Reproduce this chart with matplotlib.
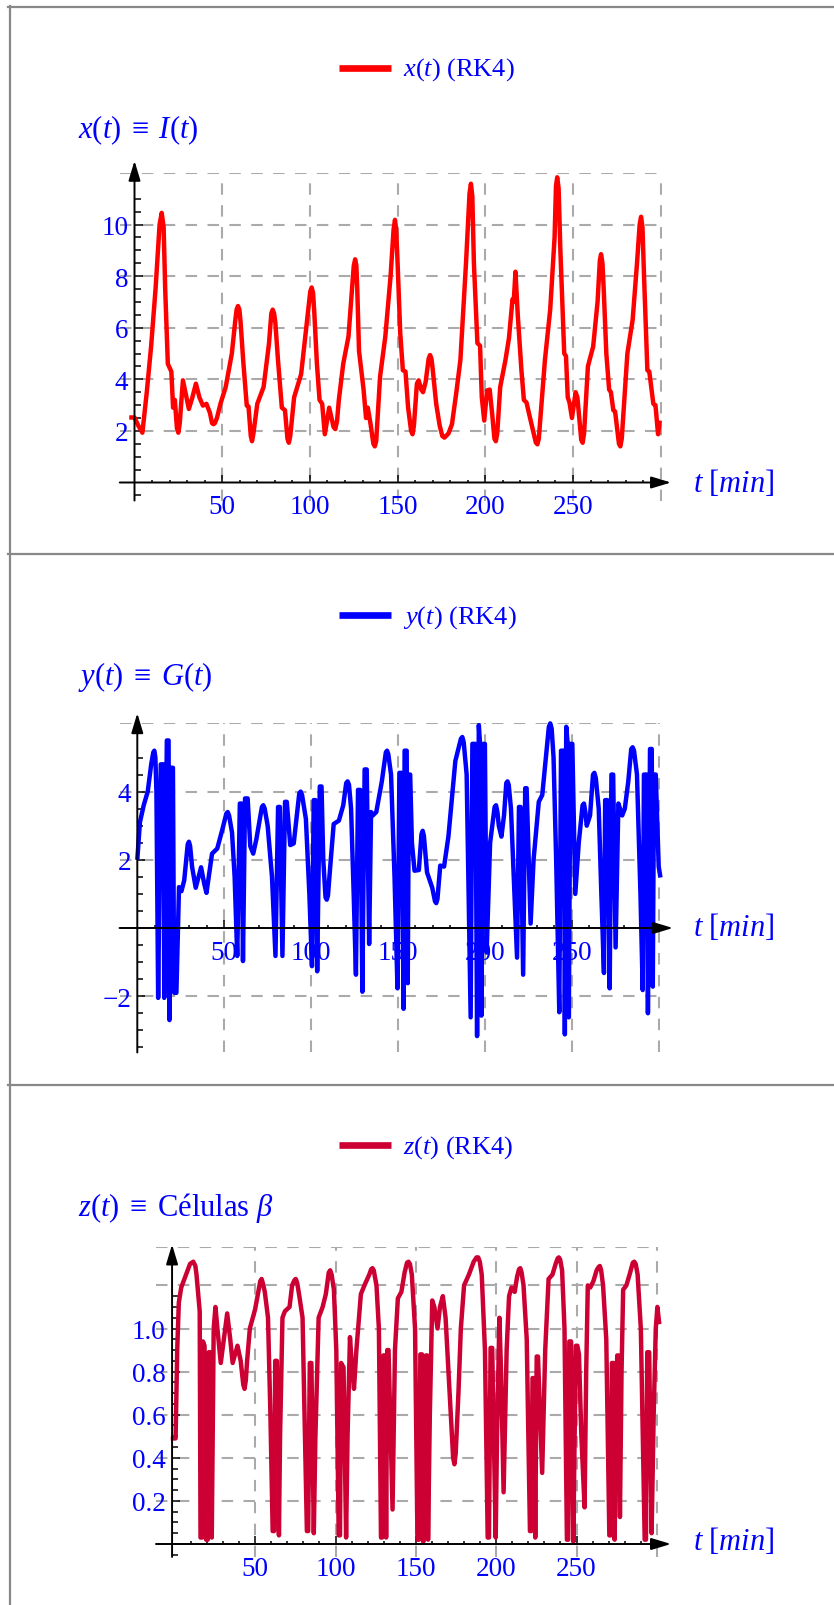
import matplotlib
matplotlib.use("Agg")
import matplotlib.pyplot as plt
from matplotlib.lines import Line2D
from matplotlib.patches import ArrowStyle

plt.rcParams["font.family"] = ["Liberation Serif", "DejaVu Serif"]
plt.rcParams["mathtext.fontset"] = "custom"
plt.rcParams["mathtext.rm"] = "Liberation Serif"
plt.rcParams["mathtext.it"] = "Liberation Serif:italic"
plt.rcParams["mathtext.bf"] = "Liberation Serif:bold"

# x(t) = I(t) as (t, value)
x_points = [
    (-3, 2.52), (0, 2.52), (2.2, 2.2), (4.5, 1.93), (7, 3.5), (9.5, 5.3), (12, 7.5),
    (14.3, 10.0), (15.5, 10.45), (16.6, 9.9), (17.5, 7.5), (19, 4.6), (20, 4.45), (21, 4.3),
    (22, 2.9), (23, 3.2), (24.2, 2.1), (25, 1.93), (25.8, 2.3), (27.6, 3.96), (29, 3.5),
    (31, 2.85), (33, 3.3), (35, 3.83), (37, 3.3), (39, 2.98), (41, 3.05), (43, 2.7),
    (44.2, 2.3), (45, 2.26), (45.8, 2.3), (47, 2.5), (49, 3.05), (52, 3.7), (55.5, 5.0),
    (57.5, 6.3), (58.2, 6.7), (59, 6.84), (59.8, 6.7), (60.5, 6.2), (62, 4.7), (64, 2.98),
    (65, 2.95), (66.3, 1.8), (67, 1.6), (67.8, 1.9), (70, 3.05), (73.6, 3.7), (76.7, 5.4),
    (78, 6.55), (78.8, 6.7), (79.6, 6.55), (80.3, 6.2), (81.8, 4.75), (84, 2.9),
    (85.8, 2.8), (87.2, 1.7), (88, 1.54), (88.8, 1.8), (91, 3.3), (95, 4.2), (98, 6.05),
    (100.2, 7.4), (101, 7.56), (101.8, 7.35), (102.5, 6.6), (104, 4.6), (105.5, 3.2),
    (107, 3.05), (108.5, 1.87), (111, 2.9), (113.5, 2.15), (114.5, 2.07), (115.5, 2.4),
    (116.5, 3.2), (119, 4.6), (122, 5.66), (125, 8.4), (125.8, 8.65), (126.5, 8.4),
    (127, 7.5), (128, 5.1), (130.6, 3.6), (132, 2.5), (133, 2.9), (134.5, 2.3),
    (136.2, 1.5), (137, 1.4), (137.8, 1.6), (140, 4.1), (143, 5.66), (146, 8.0),
    (147.7, 9.8), (148.5, 10.18), (149.2, 9.8), (150, 8.5), (151.5, 5.8), (153, 4.35),
    (154.5, 4.3), (156, 2.9), (157.7, 2.0), (158.5, 1.87), (159.3, 2.2), (161, 3.83),
    (162, 3.96), (163.5, 3.6), (164.5, 3.5), (166, 3.9), (167.7, 4.8), (168.5, 4.94),
    (169.3, 4.8), (170, 4.4), (172, 3.05), (174, 2.2), (175.5, 1.8), (176.7, 1.74),
    (179, 1.9), (181, 2.26), (183.5, 3.5), (185.8, 4.75), (189, 8.5), (191, 11.2),
    (191.8, 11.58), (192.6, 11.1), (193.5, 8.5), (195.5, 5.4), (197, 5.3), (198, 3.3),
    (199.4, 2.4), (201, 3.57), (202.5, 3.6), (204, 2.6), (205.2, 1.7), (206, 1.6),
    (206.8, 1.9), (208.5, 3.7), (211.5, 4.75), (213.5, 5.6), (215.5, 7.1), (216.2, 7.0),
    (217.2, 8.17), (218.5, 6.5), (220.6, 4.35), (222, 3.2), (223.5, 3.1), (225, 2.65),
    (228.8, 1.55), (229.7, 1.48), (230.5, 1.7), (232, 3.0), (234, 4.75), (237, 6.7),
    (239.5, 9.5), (240.3, 11.5), (241, 11.83), (241.8, 11.4), (242.8, 9.0), (245, 5.0),
    (246, 4.9), (247, 3.3), (248, 3.1), (249.4, 2.5), (251.5, 3.5), (252.5, 3.3),
    (254.7, 1.65), (255.5, 1.54), (256.3, 1.9), (258.5, 4.5), (261.5, 5.27), (264, 7.0),
    (265.3, 8.6), (266, 8.85), (266.8, 8.5), (267.5, 7.5), (269, 5.0), (270.6, 3.6),
    (271.6, 3.5), (273, 2.8), (274, 2.75), (276.2, 1.5), (277, 1.4), (277.8, 1.7),
    (281, 5.0), (284, 6.3), (286.5, 8.5), (288, 10.0), (288.8, 10.3), (289.6, 9.9),
    (290.5, 8.0), (292.4, 4.35), (293.5, 4.3), (295.8, 3.05), (297, 3.0), (298.5, 1.87),
    (299.5, 2.4),
]

# y(t) = G(t)
y_points = [
    (0, 2.0), (1.5, 3.1), (3.7, 3.6), (6, 4.0), (8, 4.8), (9.2, 5.15), (9.8, 5.2),
    (10.4, 5.0), (11, 4.0),
    (12, -2.05), (13.5, 4.8), (15, 4.8), (15.5, -2.05), (17, 5.5), (18, 5.5), (18.5, -2.7),
    (19.2, 4.7), (20.5, 4.7), (21.2, -1.9), (22.5, -1.9), (24, 1.2), (25.4, 1.08),
    (27, 1.4), (29, 2.45), (29.7, 2.53), (30.4, 2.4), (31.5, 1.8), (33.6, 1.18),
    (36.7, 1.78), (38.5, 1.3), (39.8, 1.03), (43, 2.18), (46, 2.33), (49, 2.9),
    (51.2, 3.35), (52, 3.4), (52.8, 3.3), (54.5, 2.8), (56, 1.5),
    (57.5, -0.82), (59, 3.65), (60, 3.65), (60.8, -0.97), (62, 3.8), (63.5, 3.8),
    (65, 2.4), (66.7, 2.18), (68.5, 2.6), (71.7, 3.55), (72.5, 3.6), (73.3, 3.5),
    (75, 3.0), (77.5, 1.5),
    (79.5, -0.82), (81, 3.55), (82, 3.55), (83.5, -0.82), (85, 3.7), (86, 3.7),
    (88, 2.43), (90, 2.48), (93.2, 3.95), (94, 4.0), (94.8, 3.9), (97, 3.2), (99, 1.0),
    (100.5, -1.12),
    (101.5, 3.75), (102.5, 3.75), (103.5, -1.27), (105, 4.15), (106, 4.15), (107, 2.0),
    (108.3, 0.9), (109, 0.83), (109.7, 0.95), (111, 1.8), (113, 3.05), (116, 3.15),
    (118.5, 3.6), (120.2, 4.25), (121, 4.3), (121.8, 4.2),
    (123, 3.5), (124.5, 1.0), (125.8, -1.37), (127, 4.05), (128.3, 4.05), (129.5, -1.87),
    (130.8, 4.65), (132, 4.65), (133.4, -0.47), (134.5, 3.4), (135.5, 3.3), (137.5, 3.4),
    (140.7, 4.3), (143, 5.15), (143.7, 5.2), (144.4, 5.1), (146, 4.5), (148, 1.5),
    (149.7, -1.77), (150.8, 4.55),
    (152, 4.55), (153.2, -2.37), (153.8, 5.2), (155, 5.2), (155.6, -1.62), (156.3, 4.5),
    (157, 4.5), (158, 2.5), (159.5, 1.68), (162, 1.7), (163.5, 2.75), (164.2, 2.85),
    (164.9, 2.7), (166.7, 1.63),
    (169.7, 1.18), (171.3, 0.78), (172, 0.73), (172.7, 0.85), (174.3, 1.83), (176.5, 1.8),
    (179, 2.68), (183, 4.9), (186.2, 5.55), (187, 5.6), (187.8, 5.45),
    (189.5, 4.5), (191.8, -2.62), (192.8, 5.4), (194.5, 5.4), (195.5, -3.17),
    (196.5, 5.95), (197.2, 5.4), (198, -2.57), (199, 5.4), (200, 5.4), (201, -0.72),
    (203, 2.5), (205.6, 3.55), (206.4, 3.6), (207.2, 3.4), (208, 3.0), (209.5, 2.68),
    (211, 3.3), (212.3, 4.25), (213, 4.3), (213.7, 4.2),
    (215, 3.5), (217, 1.0), (218.5, -0.87), (219.6, 3.55), (220.5, 3.55), (222, -1.37),
    (223.2, 4.1), (224, 4.1), (226.3, 0.13), (228, 2.0), (231, 3.7), (233, 3.9),
    (235.5, 5.2), (236.8, 5.9), (237.6, 6.0), (238.4, 5.85), (239.5, 5.0), (241, 2.0),
    (242.8, -2.47), (243.8, 5.2),
    (245.5, 5.2), (246, -3.12), (246.8, 5.9), (247.8, 5.3), (248.3, -2.62), (249.2, 5.4),
    (250.3, 5.4), (252, 1.0), (254, 2.5), (256.2, 3.6), (257, 3.65), (257.8, 3.4),
    (258.6, 3.0), (260.5, 3.3),
    (262.2, 4.5), (263, 4.55), (263.8, 4.4), (265.5, 3.5), (267, 1.0), (268.5, -1.32),
    (269.2, 3.75), (270.5, 3.75),
    (271.8, -1.77), (272.8, 4.5), (273.8, 4.5), (275.2, -0.57), (276.8, 3.65), (279, 3.3),
    (280.5, 3.5), (282.5, 4.3), (284.2, 5.25), (285, 5.3), (285.8, 5.2), (287.5, 4.5),
    (289.5, 1.0), (290.8, -1.82),
    (291.5, 4.5), (293, 4.5), (293.8, -2.5), (295, 5.25), (296, 5.25), (296.6, -1.72),
    (297.3, 4.5), (298.3, 4.5), (300, 1.8), (301, 1.48),
]

# z(t) = beta cells
z_points = [
    (-2.5, 0.49), (0.5, 0.49), (1.5, 0.9), (2.5, 1.12), (4, 1.19), (7, 1.25), (9.5, 1.3),
    (11.5, 1.31), (12.8, 1.29), (13.5, 1.25), (15.5, 1.08), (16, 0.03), (17, 0.03),
    (17.5, 0.94), (18.5, 0.92),
    (19.5, 0.02), (20.5, 0.02), (21.2, 0.89), (22, 0.89), (23, 0.03), (24.2, 1.0),
    (25.3, 1.1), (26.5, 1.0), (28.6, 0.84), (30.5, 0.95), (32.6, 1.07), (34.5, 0.95),
    (36, 0.84), (37.5, 0.88), (39, 0.92), (41, 0.85), (42.6, 0.74), (43.4, 0.72),
    (44.2, 0.76), (45, 0.85),
    (46.7, 1.0), (50, 1.09), (52, 1.17), (53.2, 1.22), (54, 1.23), (54.8, 1.21),
    (56, 1.17), (58, 1.05), (59.5, 0.6),
    (60.9, 0.06), (61.8, 0.06), (62.5, 0.85), (63.5, 0.85), (64.8, 0.04), (65.5, 0.5),
    (67, 1.05), (68.5, 1.08), (71.4, 1.1), (73, 1.2), (74.5, 1.225), (75.3, 1.23),
    (76.2, 1.21), (77.5, 1.15),
    (79.5, 1.05), (81, 0.5), (82.2, 0.06), (83, 0.06), (84, 0.84), (85, 0.84),
    (86.5, 0.05), (87.5, 0.5), (89.5, 1.05), (92, 1.1), (94, 1.16), (95.8, 1.26),
    (96.7, 1.27), (97.6, 1.25),
    (99, 1.18), (100.5, 0.9), (102, 0.04), (102.8, 0.04), (103.5, 0.84), (105, 0.82),
    (106.6, 0.03), (107.5, 0.5), (109, 0.96), (110, 0.85), (111.5, 0.72), (113, 0.9),
    (115.8, 1.16), (118, 1.2), (121, 1.25), (122.2, 1.275), (123, 1.28), (123.8, 1.27),
    (125.5, 1.2), (127, 1.0),
    (128.3, 0.03), (129, 0.03), (129.8, 0.875), (130.8, 0.875), (131.5, 0.03),
    (132.2, 0.9), (133, 0.9), (135.5, 0.16), (137, 0.9), (138.8, 1.14), (141, 1.17),
    (143, 1.26), (144.5, 1.305), (145.4, 1.31), (146.3, 1.3), (147.5, 1.25), (149.5, 1.0),
    (151, 0.02), (152, 0.02),
    (152.8, 0.88), (153.8, 0.88), (154.6, 0.01), (155.5, 0.5), (156.3, 0.875),
    (157, 0.875), (157.6, 0.02), (158.7, 0.6), (160.2, 1.13), (161.5, 1.1), (163.5, 1.0),
    (165, 1.1), (166.8, 1.15), (168.5, 1.05), (171, 0.7), (173.2, 0.4), (174, 0.37),
    (174.8, 0.42), (176.5, 0.7),
    (178, 1.0), (180, 1.2), (183, 1.25), (186, 1.31), (187.8, 1.33), (188.8, 1.33),
    (189.8, 1.31), (191, 1.25),
    (193, 0.9), (194.7, 0.03), (195.5, 0.03), (196.5, 0.91), (197.5, 0.91), (199.7, 0.03),
    (200.5, 0.5), (202, 1.05), (203, 0.8), (204.6, 0.24), (206.5, 0.9), (208, 1.15),
    (209.5, 1.19), (211.5, 1.17), (213, 1.24), (214.2, 1.275), (215, 1.28), (215.8, 1.26),
    (217, 1.2), (219, 0.95),
    (221, 0.06), (221.8, 0.06), (222.6, 0.77), (223.5, 0.77), (224.3, 0.03), (225.2, 0.87),
    (226, 0.87), (228.6, 0.33), (230.5, 0.9), (232.6, 1.23), (235, 1.25), (237, 1.3),
    (238.2, 1.325), (239, 1.33), (239.8, 1.32), (241, 1.27), (242.5, 1.0), (244, 0.02),
    (244.8, 0.02), (245.5, 0.94),
    (246.6, 0.94), (248, 0.01), (248.8, 0.5), (249.6, 0.92), (250.5, 0.92), (251.5, 0.88),
    (253, 0.5), (255, 0.17), (256, 0.8), (257, 1.2), (258.5, 1.19), (260.5, 1.22),
    (262.5, 1.27), (263.7, 1.285), (264.5, 1.29), (265.3, 1.27), (266.5, 1.2),
    (268.5, 0.95), (270.4, 0.04), (271.2, 0.04),
    (272, 0.84), (273, 0.84), (273.7, 0.02), (274.5, 0.5), (275.3, 0.875), (276, 0.875),
    (277, 0.125), (278, 0.8), (279, 1.18), (281, 1.2), (283, 1.25), (285, 1.305),
    (285.9, 1.31), (286.8, 1.3), (288, 1.25),
    (290, 1.0), (292.4, 0.02), (293.2, 0.02), (294, 0.89), (295.2, 0.89), (296.7, 0.05),
    (298, 0.6), (299.3, 1.0), (300.3, 1.1), (301.5, 1.02),
]

x_ticks = [50, 100, 150, 200, 250]
x_grid = [50, 100, 150, 200, 250, 300]

W, H = 834, 1606
BLUE = "#0000ff"
GRID = "#aaaaaa"
BORDER = "#888888"


def fx(px):
    return px / W


def fy(py):
    return 1 - py / H


fig = plt.figure(figsize=(W / 100, H / 100), dpi=100)

# panel frames
for y0 in [8, 555, 1086]:
    fig.add_artist(Line2D([fx(8), fx(W)], [fy(y0), fy(y0)], color=BORDER, lw=1.6))
fig.add_artist(Line2D([fx(9.5), fx(9.5)], [fy(7), fy(H)], color=BORDER, lw=1.6))

panels = [
    dict(pts=x_points, color="#ff0000", t0=134.5, ppt=1.754, v0=483.5, ppv=25.8,
         xlim=(-8.4, 301), ylim=(-0.7, 12), yaxis_at=0, xtip=305.9, ytip=12.47,
         yticks=[2, 4, 6, 8, 10], ylabels=["2", "4", "6", "8", "10"],
         yminor=[v * 0.5 for v in range(-1, 23) if v % 4 != 0],
         ygrid=[2, 4, 6, 8, 10, 12],
         legend=r"$x(t)$ (RK4)", leg_y=68.5,
         label=r"$x(t)\;\equiv\;I(t)$", label_y=130, tlab_y=483),
    dict(pts=y_points, color="#0000ff", t0=137.3, ppt=1.738, v0=929, ppv=34.1,
         xlim=(-10.2, 301), ylim=(-3.65, 6), yaxis_at=0, xtip=308.2, ytip=6.3,
         yticks=[-2, 2, 4], ylabels=["\u22122", "2", "4"],
         yminor=[v * 0.5 for v in range(-7, 11) if v % 4 != 0],
         ygrid=[-2, 2, 4, 6],
         legend=r"$y(t)$ (RK4)", leg_y=616,
         label=r"$y(t)\;\equiv\;G(t)$", label_y=677, tlab_y=928),
    dict(pts=z_points, color="#cc0033", t0=174.8, ppt=1.607, v0=1545, ppv=215.5,
         xlim=(-11.7, 301), ylim=(-0.06, 1.38), yaxis_at=-1.7, xtip=308.8, ytip=1.39,
         yticks=[0.2, 0.4, 0.6, 0.8, 1.0], ylabels=["0.2", "0.4", "0.6", "0.8", "1.0"],
         yminor=[v * 0.05 for v in range(-1, 24) if v % 4 != 0],
         ygrid=[0.2, 0.4, 0.6, 0.8, 1.0, 1.2, 1.38],
         legend=r"$z(t)$ (RK4)", leg_y=1146,
         label=r"$z(t)\;\equiv\;$Células $\beta$", label_y=1208, tlab_y=1542),
]

arrow = ArrowStyle("-|>", head_length=12, head_width=3.6)

for p in panels:
    x0, x1 = p["xlim"]
    y0, y1 = p["ylim"]
    left = p["t0"] + x0 * p["ppt"]
    bottom = p["v0"] - y0 * p["ppv"]
    ax = fig.add_axes([fx(left), fy(bottom), (x1 - x0) * p["ppt"] / W, (y1 - y0) * p["ppv"] / H])
    ax.set_xlim(x0, x1)
    ax.set_ylim(y0, y1)
    ax.patch.set_visible(False)

    for g in x_grid:
        ax.axvline(g, color=GRID, lw=1.5, ls=(0, (5.5, 5)), zorder=1)
    for g in p["ygrid"]:
        ax.axhline(g, color=GRID, lw=1.5, ls=(0, (5.5, 5)), zorder=1)

    ts = [a for a, b in p["pts"]]
    vs = [b for a, b in p["pts"]]
    ax.plot(ts, vs, color=p["color"], lw=3.2, solid_joinstyle="round",
            solid_capstyle="butt", clip_on=False, zorder=2)

    ax.spines["bottom"].set_position(("data", 0))
    ax.spines["left"].set_position(("data", p["yaxis_at"]))
    for s in ax.spines.values():
        s.set_visible(False)

    ax.set_xticks(x_ticks)
    ax.set_xticks([v for v in range(10, 300, 10) if v % 50 != 0], minor=True)
    ax.set_yticks(p["yticks"], p["ylabels"])
    ax.set_yticks(p["yminor"], minor=True)
    ax.tick_params(which="both", direction="in", color="k", width=1.1,
                   labelcolor=BLUE, labelsize=19.5, top=False, right=False)
    ax.tick_params(axis="x", which="major", length=5.5, pad=8.5)
    ax.tick_params(axis="x", which="minor", length=2)
    ax.tick_params(axis="y", which="major", length=6, pad=4.5)
    ax.tick_params(axis="y", which="minor", length=4)

    # axes with arrow heads
    ax.annotate("", xy=(p["xtip"], 0), xytext=(x0, 0),
                arrowprops=dict(arrowstyle=arrow, color="k", lw=1.4, shrinkA=0, shrinkB=0,
                                mutation_scale=1),
                annotation_clip=False, zorder=3)
    ax.annotate("", xy=(p["yaxis_at"], p["ytip"]), xytext=(p["yaxis_at"], y0),
                arrowprops=dict(arrowstyle=arrow, color="k", lw=1.4, shrinkA=0, shrinkB=0,
                                mutation_scale=1),
                annotation_clip=False, zorder=3)

    # legend above the plot
    fig.add_artist(Line2D([fx(339), fx(391)], [fy(p["leg_y"]), fy(p["leg_y"])],
                          color=p["color"], lw=4.8, solid_capstyle="butt"))
    fig.text(fx(403), fy(p["leg_y"] + 1.5), p["legend"], color=BLUE, fontsize=19,
             ha="left", va="center")

    fig.text(fx(78), fy(p["label_y"]), p["label"], color=BLUE, fontsize=22,
             ha="left", va="center")
    fig.text(fx(693), fy(p["tlab_y"]), r"$t\ [min]$", color=BLUE, fontsize=22,
             ha="left", va="center")

fig.savefig("out.png", dpi=100)
